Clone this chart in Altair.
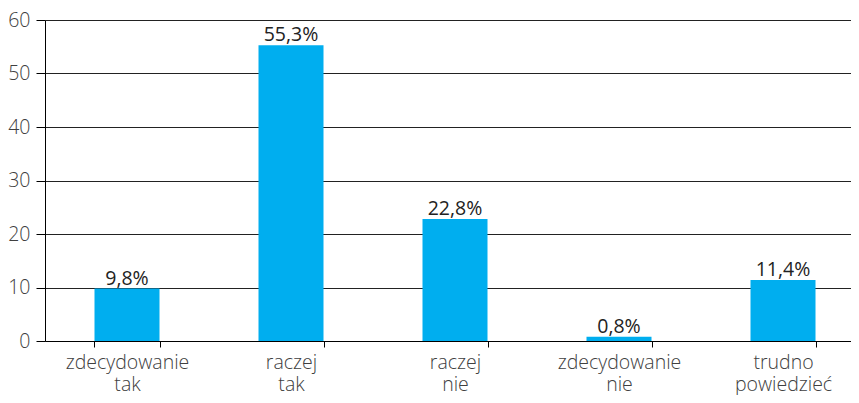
import altair as alt
import pandas as pd

categories = ["zdecydowanie tak", "raczej tak", "raczej nie", "zdecydowanie nie", "trudno powiedzieć"]
values = [9.8, 55.3, 22.8, 0.8, 11.4]
labels = ["9,8%", "55,3%", "22,8%", "0,8%", "11,4%"]

df = pd.DataFrame({"cat": categories, "val": values, "lab": labels})

FONT = "Open Sans"
FS = 19.5

x = alt.X("cat:N", sort=categories, title=None,
          scale=alt.Scale(range=[0, 820], paddingInner=0.6, paddingOuter=0.3),
          axis=alt.Axis(labelAngle=0, labelExpr="split(datum.label, ' ')",
                        labelLineHeight=22, labelFontSize=FS, labelFont=FONT,
                        labelBaseline="alphabetic",
                        labelColor="#404040", labelPadding=21, tickBand="extent",
                        tickSize=6, tickColor="#000", domainColor="#000",
                        labelFontWeight=300))
y = alt.Y("val:Q", title=None,
          scale=alt.Scale(domain=[0, 60]),
          axis=alt.Axis(values=[0, 10, 20, 30, 40, 50, 60], labelFontSize=FS,
                        labelFont=FONT, labelColor="#404040", labelPadding=6,
                        tickSize=9, tickColor="#000", domainColor="#000",
                        gridColor="#222", gridWidth=1, labelFontWeight=300))

bars = alt.Chart(df).mark_bar(color="#00AEEF", size=65).encode(x=x, y=y)
text = alt.Chart(df).mark_text(dy=-4, baseline="alphabetic", fontSize=FS, font=FONT,
                               color="#222").encode(x=alt.X("cat:N", sort=categories), y="val:Q", text="lab:N")

chart = (bars + text).properties(
    width=806, height=321,
    padding={"left": 37, "top": 12, "right": 0, "bottom": 54},
    autosize="none",
).configure_view(stroke=None).configure_axis(grid=True).configure_axisX(grid=False)

chart.save("out.html", embed_options={"renderer": "svg", "actions": False})
